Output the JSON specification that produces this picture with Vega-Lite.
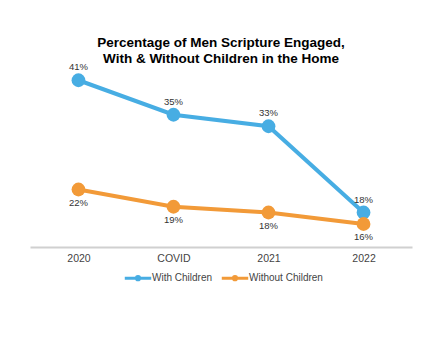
{
  "$schema": "https://vega.github.io/schema/vega-lite/v6.json",
  "autosize": "none",
  "width": 382,
  "height": 184,
  "padding": {"left": 30, "top": 63, "right": 28, "bottom": 106},
  "background": "white",
  "title": {
    "text": ["Percentage of Men Scripture Engaged,", "With & Without Children in the Home"],
    "font": "Liberation Sans",
    "fontSize": 13.5,
    "fontWeight": "bold",
    "color": "black",
    "lineHeight": 16,
    "anchor": "middle",
    "offset": -3
  },
  "data": {
    "values": [
      {"period": "2020", "series": "With Children", "pct": 41, "label": "41%"},
      {"period": "COVID", "series": "With Children", "pct": 35, "label": "35%"},
      {"period": "2021", "series": "With Children", "pct": 33, "label": "33%"},
      {"period": "2022", "series": "With Children", "pct": 18, "label": "18%"},
      {"period": "2020", "series": "Without Children", "pct": 22, "label": "22%"},
      {"period": "COVID", "series": "Without Children", "pct": 19, "label": "19%"},
      {"period": "2021", "series": "Without Children", "pct": 18, "label": "18%"},
      {"period": "2022", "series": "Without Children", "pct": 16, "label": "16%"}
    ]
  },
  "encoding": {
    "x": {
      "field": "period",
      "type": "ordinal",
      "sort": ["2020", "COVID", "2021", "2022"],
      "scale": {"type": "point", "padding": 0.51},
      "axis": {
        "title": null,
        "labelAngle": 0,
        "labelFont": "Liberation Sans",
        "labelFontSize": 10.5,
        "labelColor": "#444444",
        "labelPadding": 6,
        "ticks": false,
        "domainColor": "#d0d0d0",
        "domainWidth": 2,
        "grid": false
      }
    },
    "y": {
      "field": "pct",
      "type": "quantitative",
      "scale": {"domain": [12, 44], "nice": false, "zero": false},
      "axis": null
    }
  },
  "layer": [
    {
      "mark": {"type": "line", "strokeWidth": 4, "point": {"size": 190, "filled": true, "opacity": 1}},
      "encoding": {
        "color": {
          "field": "series",
          "type": "nominal",
          "scale": {"domain": ["With Children", "Without Children"], "range": ["#47ade3", "#f29a38"]},
          "legend": {
            "title": null,
            "orient": "none",
            "legendX": 93,
            "legendY": 200,
            "direction": "horizontal",
            "labelFont": "Liberation Sans",
            "labelFontSize": 10,
            "labelColor": "#444444",
            "symbolType": "M-1,0H1M-0.12,0A0.12,0.12 0 1,1 0.12,0A0.12,0.12 0 1,1 -0.12,0Z",
            "symbolSize": 700,
            "symbolStrokeWidth": 3,
            "columnPadding": 2,
            "labelOffset": -1
          }
        }
      }
    },
    {
      "transform": [{"filter": "datum.series === 'With Children'"}],
      "mark": {"type": "text", "dy": -13, "font": "Liberation Sans", "fontSize": 9.5, "color": "#333333"},
      "encoding": {"text": {"field": "label"}}
    },
    {
      "transform": [{"filter": "datum.series === 'Without Children'"}],
      "mark": {"type": "text", "dy": 13, "font": "Liberation Sans", "fontSize": 9.5, "color": "#333333"},
      "encoding": {"text": {"field": "label"}}
    }
  ],
  "config": {"view": {"stroke": null}}
}
